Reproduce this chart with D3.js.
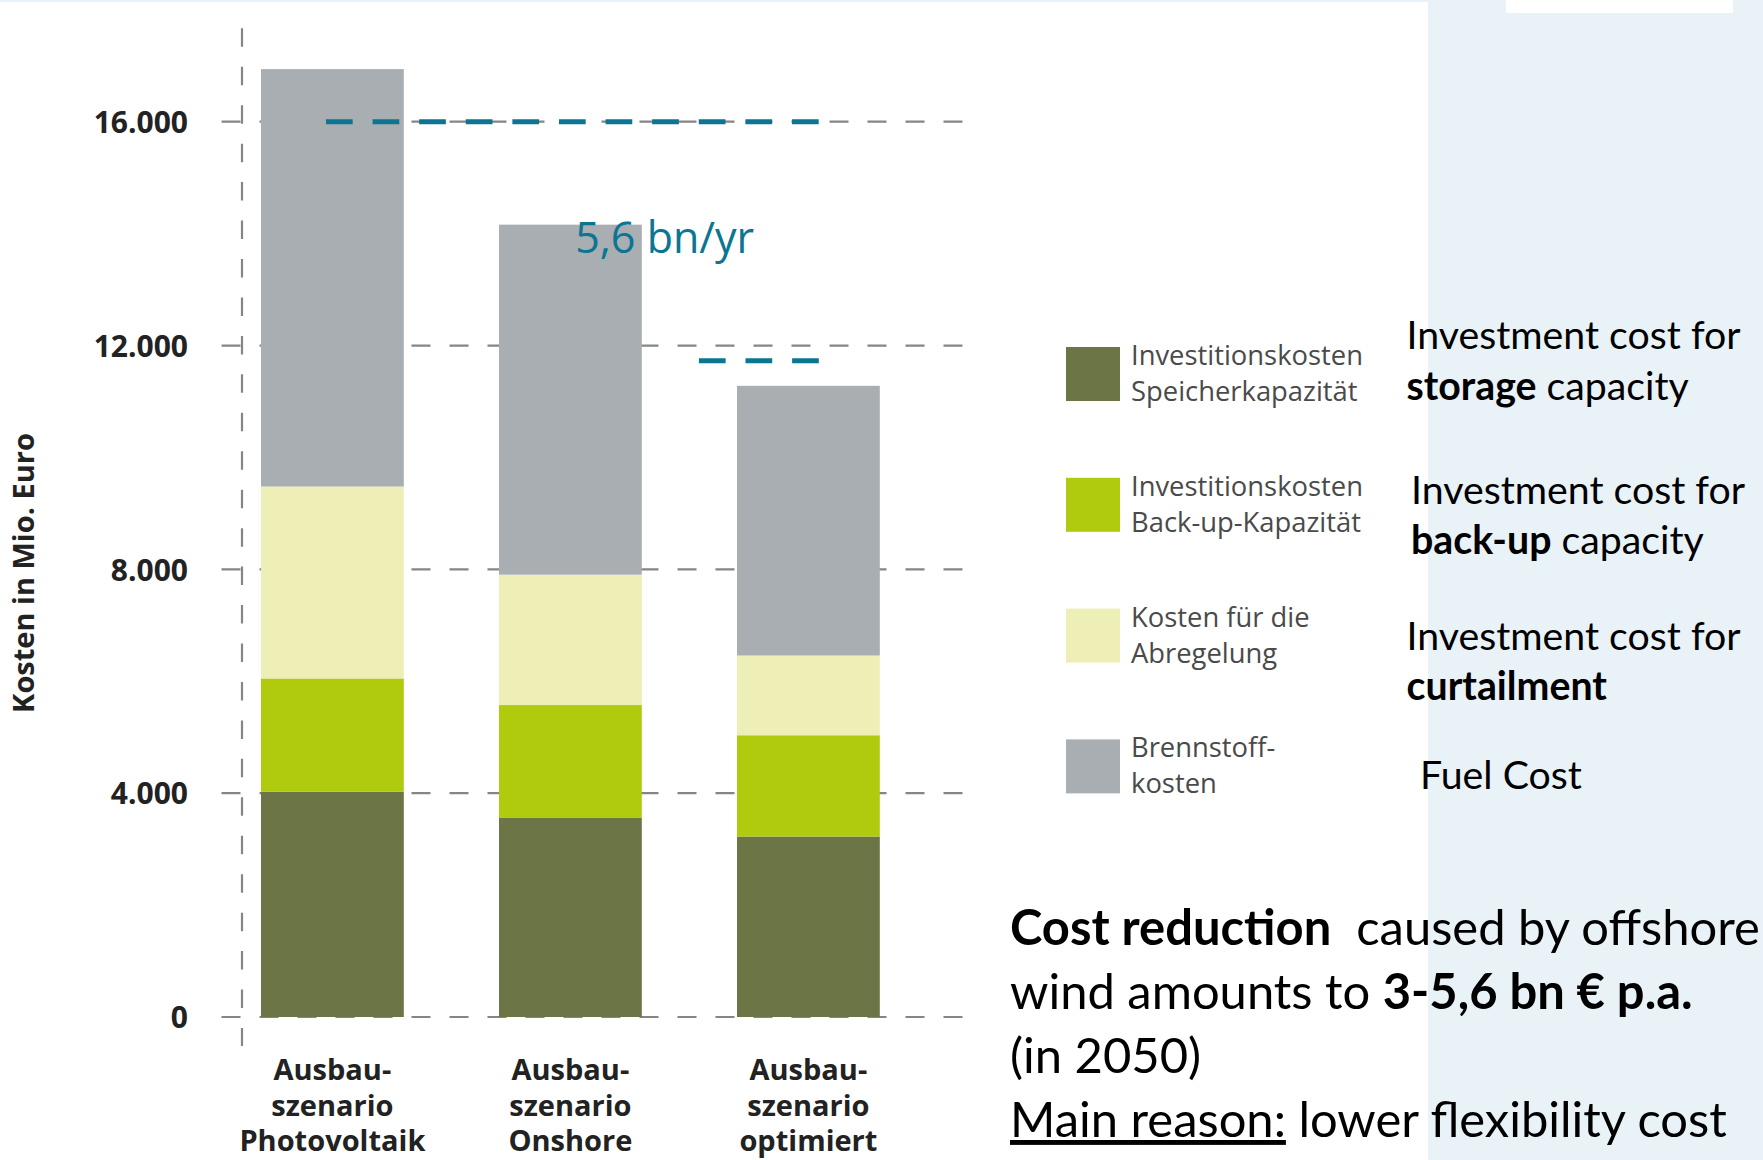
<!DOCTYPE html>
<html><head><meta charset="utf-8">
<script src="https://cdn.jsdelivr.net/npm/d3@7"></script>
<style>
html,body{margin:0;padding:0;background:#fff;}
svg{display:block;}
text{white-space:pre;}
</style></head><body>
<svg id="c" width="1763" height="1160"></svg>
<script>
// ---------- data ----------
const categories = ["Photovoltaik", "Onshore", "optimiert"];
const categoryLines = [["Ausbau-", "szenario", "Photovoltaik"], ["Ausbau-", "szenario", "Onshore"], ["Ausbau-", "szenario", "optimiert"]];
const seriesKeys = ["storage", "backup", "curtailment", "fuel"];
const seriesLabels = [["Investitionskosten", "Speicherkapazität"], ["Investitionskosten", "Back-up-Kapazität"], ["Kosten für die", "Abregelung"], ["Brennstoff-", "kosten"]];
const storage = [4025, 3565, 3225];
const backup = [2025, 2010, 1810];
const curtailment = [3430, 2330, 1425];
const fuel = [7460, 6255, 4820];
const yTicks = [0, 4000, 8000, 12000, 16000];
const yAxisTitle = "Kosten in Mio. Euro";
const colors = ["#6c7545", "#b0ca0d", "#eeefb6", "#a8aeb2"];
// annotation: level (value) and span in category-centre units
const annotationLevels = [16000, 11730];
const annotationSpans = [[-0.027, 2.046], [1.54, 2.046]];
const annotationLabel = "5,6 bn/yr";
const annotationLabelPos = [1.02, 13660];
const translations = [
  [[{t: "Investment cost for"}], [{t: "storage", b: true}, {t: " capacity"}]],
  [[{t: "Investment cost for"}], [{t: "back-up", b: true}, {t: " capacity"}]],
  [[{t: "Investment cost for"}], [{t: "curtailment", b: true}]],
  [[{t: "Fuel Cost"}]]
];
const conclusion = [
  [{t: "Cost reduction", b: true}, {t: "  caused by offshore"}],
  [{t: "wind amounts to "}, {t: "3-5,6 bn € p.a.", b: true}],
  [{t: "(in 2050)"}],
  [{t: "Main reason:", u: true}, {t: " lower flexibility cost"}]
];

// ---------- setup ----------
const svg = d3.select("#c");
const chartFont = "'Open Sans', 'Noto Sans', sans-serif";
const slideFont = "Lato, 'Open Sans', sans-serif";

// background panels
svg.append("rect").attr("x", 0).attr("y", 0).attr("width", 1763).attr("height", 1160).attr("fill", "#fff");
svg.append("rect").attr("x", 1428).attr("y", 0).attr("width", 335).attr("height", 1160).attr("fill", "#e9f2f6");
svg.append("rect").attr("x", 0).attr("y", 0).attr("width", 1763).attr("height", 2).attr("fill", "#e9f2f6");
svg.append("rect").attr("x", 1506).attr("y", 0).attr("width", 227).attr("height", 13).attr("fill", "#fff");

const y = d3.scaleLinear().domain([0, 16000]).range([1017, 121.7]);
const x = d3.scaleBand().domain(categories).range([165.8, 975]).paddingInner(0.4).paddingOuter(0.4);
const bw = x.bandwidth();
const xc = d3.scaleLinear().domain([0, 2]).range([x(categories[0]) + bw / 2, x(categories[2]) + bw / 2]);

// gridlines
svg.append("g").selectAll("line").data(yTicks).join("line")
  .attr("x1", 962.5).attr("x2", 214.5)
  .attr("y1", d => y(d)).attr("y2", d => y(d))
  .attr("stroke", "#858585").attr("stroke-width", 2.2)
  .attr("stroke-dasharray", "19 19");

// vertical dashed axis line
svg.append("line").attr("x1", 242).attr("x2", 242).attr("y1", 28.3).attr("y2", 1046)
  .attr("stroke", "#858585").attr("stroke-width", 2.2).attr("stroke-dasharray", "18.5 19.95");

// y axis labels
const fmt = d3.formatLocale({decimal: ",", thousands: ".", grouping: [3], currency: ["", "€"]}).format(",d");
const yAxis = svg.append("g").attr("transform", "translate(242,0)")
  .call(d3.axisLeft(y).tickValues(yTicks).tickSize(0).tickPadding(54).tickFormat(fmt));
yAxis.select(".domain").remove();
yAxis.selectAll("text").attr("font-family", chartFont).attr("font-weight", 700)
  .attr("font-size", 30).attr("fill", "#222").attr("dy", "0.36em");

// y axis title
svg.append("text").attr("transform", "translate(34,573) rotate(-90)")
  .attr("text-anchor", "middle").attr("font-family", chartFont).attr("font-weight", 700)
  .attr("font-size", 29).attr("fill", "#222").text(yAxisTitle);

// bars
const rows = categories.map((c, i) => ({cat: c, storage: storage[i], backup: backup[i], curtailment: curtailment[i], fuel: fuel[i]}));
const stacked = d3.stack().keys(seriesKeys)(rows);
svg.append("g").selectAll("g").data(stacked).join("g")
  .attr("fill", (d, i) => colors[i])
  .selectAll("rect").data(d => d).join("rect")
  .attr("x", d => x(d.data.cat)).attr("width", bw)
  .attr("y", d => y(d[1])).attr("height", d => y(d[0]) - y(d[1]));

// category labels
const catG = svg.append("g").attr("font-family", chartFont).attr("font-weight", 700)
  .attr("font-size", 29).attr("fill", "#222").attr("text-anchor", "middle");
categories.forEach((c, i) => {
  const t = catG.append("text").attr("x", x(c) + bw / 2);
  categoryLines[i].forEach((ln, j) => t.append("tspan").attr("x", x(c) + bw / 2).attr("y", 1080 + j * 35.5).text(ln));
});

// teal annotation
svg.append("g").selectAll("line").data(annotationLevels).join("line")
  .attr("x1", (d, i) => xc(annotationSpans[i][0])).attr("x2", (d, i) => xc(annotationSpans[i][1]))
  .attr("y1", d => y(d)).attr("y2", d => y(d))
  .attr("stroke", "#0b7592").attr("stroke-width", 5).attr("stroke-dasharray", "26.7 19.9");
svg.append("text").attr("x", xc(annotationLabelPos[0])).attr("y", y(annotationLabelPos[1]))
  .attr("font-family", chartFont).attr("font-size", 43).attr("fill", "#0b7592").text(annotationLabel);

// legend
const leg = svg.append("g").attr("font-family", chartFont).attr("font-size", 27).attr("fill", "#4a4a4a");
let legRef = null;
seriesKeys.forEach((k, i) => {
  const y0 = 347 + i * 130.8;
  leg.append("rect").attr("x", 1066).attr("y", y0).attr("width", 54).attr("height", 54).attr("fill", colors[i]);
  seriesLabels[i].forEach((ln, j) => {
    const tt = leg.append("text").attr("x", 1131).attr("y", y0 + 18 + j * 36).text(ln);
    if (i === 0 && j === 0) legRef = tt;
  });
});

// translations
const trG = svg.append("g").attr("font-family", slideFont).attr("font-size", 38).attr("fill", "#000");
const trX = [1406.6, 1411, 1406.6, 1420];
const trY = [[349, 400], [504, 554], [650, 700], [789]];
let trRef = null;
translations.forEach((blk, i) => {
  blk.forEach((ln, j) => {
    const t = trG.append("text").attr("x", trX[i]).attr("y", trY[i][j]);
    ln.forEach(s => t.append("tspan").attr("font-weight", s.b ? 700 : 400).text(s.t));
    if (i === 0 && j === 0) trRef = t;
  });
});

// conclusion block
const coG = svg.append("g").attr("font-family", slideFont).attr("font-size", 48).attr("fill", "#000");
let coRef = null;
conclusion.forEach((ln, j) => {
  const t = coG.append("text").attr("x", 1010).attr("y", 945 + j * 64);
  ln.forEach(s => t.append("tspan").attr("font-weight", s.b ? 700 : 400)
    .attr("text-decoration", s.u ? "underline" : null).text(s.t));
  if (j === 0) coRef = t;
});

function fitGroup(g, ref, target) {
  const w = ref.node().getComputedTextLength();
  const fs = parseFloat(g.attr("font-size"));
  if (w > 0) g.attr("font-size", fs * target / w);
}
function fitAll() {
  fitGroup(trG, trRef, 334);
  fitGroup(coG, coRef, 750);
  fitGroup(leg, legRef, 232);
}
fitAll();
if (document.fonts && document.fonts.ready) document.fonts.ready.then(fitAll);
</script>
</body></html>
